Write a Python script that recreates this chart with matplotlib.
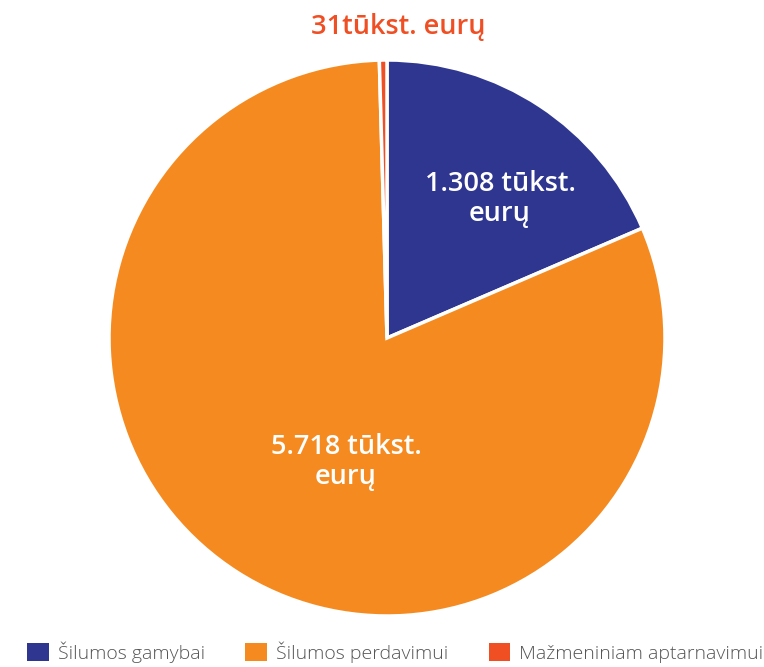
import matplotlib.pyplot as plt
from matplotlib.patches import Patch

labels = ["Šilumos gamybai", "Šilumos perdavimui", "Mažmeniniam aptarnavimui"]
values = [1308, 5718, 31]
value_texts = ["1.308 tūkst.\neurų", "5.718 tūkst.\neurų", "31tūkst. eurų"]
colors = ["#2E3690", "#F58B20", "#F04E23"]

plt.rcParams["font.family"] = ["Open Sans", "DejaVu Sans"]

fig = plt.figure(figsize=(7.64, 6.67), dpi=100)
ax = fig.add_axes([0, 0, 1, 1])

wedges, _ = ax.pie(
    values, colors=colors, startangle=90, counterclock=False,
    center=(387, 329), radius=278, frame=True,
    wedgeprops=dict(edgecolor="white", linewidth=2.5),
)
ax.set_xlim(0, 764)
ax.set_ylim(0, 667)
ax.set_aspect("equal")
ax.axis("off")

ax.text(500, 468, value_texts[0], color="white", fontsize=19.5, fontweight="semibold",
        ha="center", va="center", linespacing=1.05)
ax.text(346, 205, value_texts[1], color="white", fontsize=19.5, fontweight="semibold",
        ha="center", va="center", linespacing=1.05)
ax.text(398, 640, value_texts[2], color=colors[2], fontsize=19.5, fontweight="semibold",
        ha="center", va="center")

handles = [Patch(facecolor=c, edgecolor="none") for c in colors]
fig.legend(handles, labels, loc="lower left", bbox_to_anchor=(0.018, -0.014),
           ncol=3, frameon=False, handlelength=1.1, handleheight=1.1,
           columnspacing=2.1, handletextpad=0.45, labelcolor="#555555",
           borderpad=0.2, prop=dict(size=14, weight="light"))

fig.savefig("out.png", dpi=100)
